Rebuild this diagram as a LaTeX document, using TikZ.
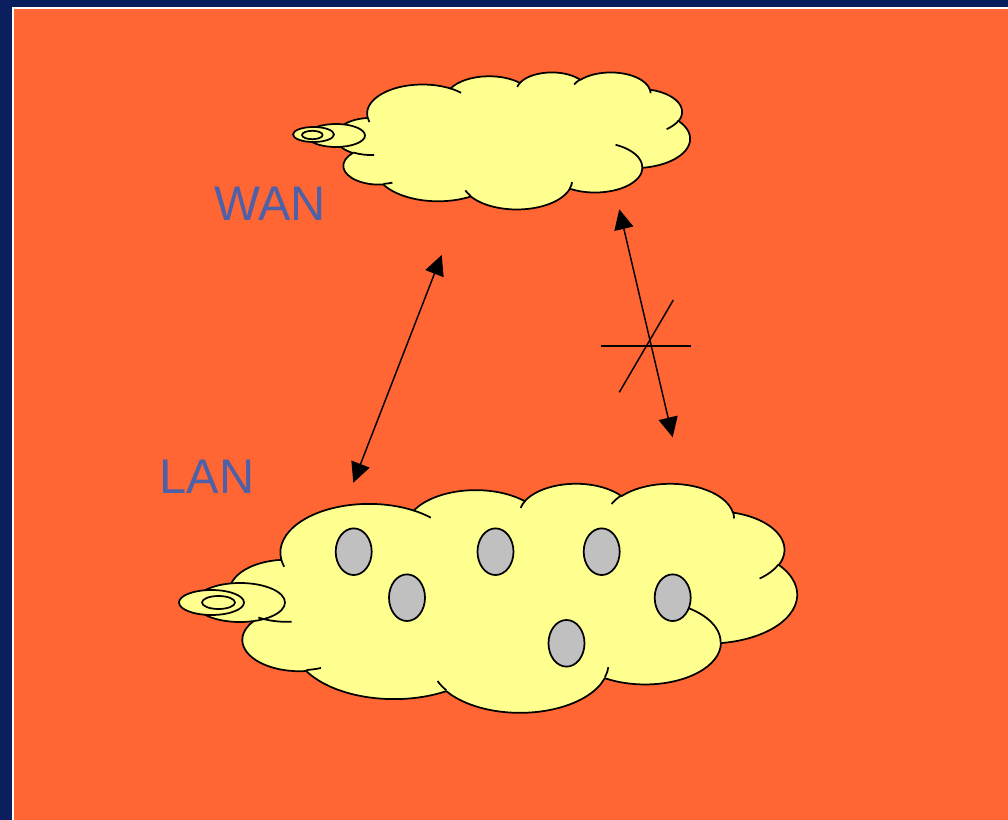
\documentclass[tikz,border=0pt]{standalone}
\usepackage{fontspec}
\setmainfont{Liberation Sans}
\usetikzlibrary{arrows.meta,shapes.geometric}

\definecolor{framenavy}{RGB}{11,31,94}
\definecolor{slideorange}{RGB}{255,102,51}
\definecolor{cloudyellow}{RGB}{255,255,143}
\definecolor{hostgrey}{RGB}{192,192,192}
\definecolor{labelblue}{RGB}{77,96,168}

% elliptical arc from the current point: radii, start angle and sweep,
% the angles being the visible ones (converted to parametric angles here)
\newcommand\vizarc[4]{%
  arc[x radius=#1, y radius=#2,
      start angle={atan2((#1)*sin(#3),(#2)*cos(#3))},
      delta angle={mod(atan2((#1)*sin(#3+#4),(#2)*cos(#3+#4))-atan2((#1)*sin(#3),(#2)*cos(#3))+720,360)}]}

% cloud outline in a 432 x 432 box
\newcommand\cloudoutline{%
  (39.00,143.70)
  \vizarc{67.53}{91.90}{-190.4875}{123.7805}
  \vizarc{53.33}{72.67}{-144.1024}{89.9452}
  \vizarc{43.65}{59.45}{-145.8079}{99.7230}
  \vizarc{48.57}{65.95}{-130.9861}{117.2417}
  \vizarc{53.33}{72.73}{-78.7089}{109.0269}
  \vizarc{67.75}{92.20}{-46.2673}{130.2690}
  \vizarc{57.85}{78.67}{0.6250}{114.0333}
  \vizarc{67.52}{92.15}{22.4516}{115.1726}
  \vizarc{77.20}{105.43}{66.2426}{75.7110}
  \vizarc{43.60}{59.18}{-274.9421}{146.7356}
  \vizarc{43.45}{59.45}{-246.8285}{152.5189}
  -- cycle}

% short inner strokes where the puffs overlap
\newcommand\cloudcreases{%
  (46.93,261.77)  \vizarc{43.45}{59.45}{86.7420}{26.4295}
  (69.28,348.99)  \vizarc{43.60}{59.18}{73.6105}{11.4475}
  (164.78,390.90) \vizarc{67.52}{92.15}{137.6242}{14.0811}
  (288.27,347.51) \vizarc{67.52}{92.15}{6.4533}{15.9984}
  (341.29,229.54) \vizarc{57.85}{78.67}{-70.2924}{70.9174}
  (417.98,153.54) \vizarc{53.33}{72.73}{30.3180}{27.7515}
  (383.24,54.26)  \vizarc{48.57}{65.95}{-13.7443}{14.8589}
  (290.78,39.52)  \vizarc{48.57}{65.95}{-149.1815}{18.1954}
  (221.41,47.20)  \vizarc{43.65}{59.45}{-163.4943}{17.6864}
  (140.00,51.92)  \vizarc{67.53}{91.90}{-66.7070}{12.3194}
  (41.27,157.89)  \vizarc{67.53}{91.90}{157.6544}{11.8582}}

\begin{document}
\begin{tikzpicture}[x=0.75pt, y=-0.75pt,
  cloudbox/.style n args={4}{shift={(#1,#2)},
    x={({#3*0.75pt/432},0pt)}, y={(0pt,{-#4*0.75pt/432})}},
  cloudline/.style={draw=black, line width=1.3pt, line join=round},
  cloudbody/.style={cloudline, fill=cloudyellow},
  host/.style={ellipse, draw=black, line width=1.3pt, fill=hostgrey,
    inner sep=0pt, minimum width=27pt, minimum height=35pt},
  link/.style={line width=1.1pt, {Triangle[length=15pt, width=14.5pt]}-{Triangle[length=15pt, width=14.5pt]}},
  strike/.style={line width=1.1pt},
  lbl/.style={text=labelblue, font=\fontsize{36.5pt}{40pt}\selectfont,
    inner sep=0pt, anchor=base west}]

\useasboundingbox (0,0) rectangle (1008,820);

% slide frame and background
\fill[framenavy] (0,0) rectangle (1008,820);
\fill[white] (12,6.7) rectangle (1008,820);
\fill[slideorange] (14,9) rectangle (1008,820);

% WAN cloud
\begin{scope}[cloudbox={335.6}{72}{354.4}{137}]
  \path[cloudbody] \cloudoutline;
\end{scope}
\draw[cloudbody] (336,135.5) ellipse [x radius=29, y radius=11.5];
\draw[cloudbody] (313.5,134.5) ellipse [x radius=20.5, y radius=7.5];
\draw[cloudbody] (312.3,135) ellipse [x radius=10.3, y radius=4.2];
\begin{scope}[cloudbox={335.6}{72}{354.4}{137}]
  \path[cloudline] \cloudcreases;
\end{scope}

% LAN cloud
\begin{scope}[cloudbox={230}{483}{567}{229}]
  \path[cloudbody] \cloudoutline;
\end{scope}
\draw[cloudbody] (240,602.5) ellipse [x radius=45, y radius=19.5];
\draw[cloudbody] (211.5,602.5) ellipse [x radius=32.5, y radius=12.5];
\draw[cloudbody] (218.5,602.5) ellipse [x radius=16.5, y radius=6.5];
\begin{scope}[cloudbox={230}{483}{567}{229}]
  \path[cloudline] \cloudcreases;
\end{scope}

% hosts on the LAN
\node[host] (h1) at (353.7,551.7) {};
\node[host] (h2) at (407,597.7) {};
\node[host] (h3) at (495.5,551.7) {};
\node[host] (h4) at (601.7,551.7) {};
\node[host] (h5) at (672.7,597.7) {};
\node[host] (h6) at (566.5,643.3) {};

% labels
\node[lbl] (wan) at (214,221) {WAN};
\node[lbl] (lan) at (159.5,493.5) {LAN};

% links between the two networks
\coordinate (wanA) at (441.7,255);
\coordinate (lanA) at (353.3,482.7);
\coordinate (wanB) at (619.3,209.3);
\coordinate (lanB) at (672.7,437.3);
\draw[link] (wanA) -- (lanA);
\draw[link] (wanB) -- (lanB);

% strike-through mark on the second link
\coordinate (sL) at (601,346);
\coordinate (sR) at (691,346);
\coordinate (dB) at (619.3,392.3);
\coordinate (dT) at (673.3,300);
\draw[strike] (sL) -- (sR);
\draw[strike] (dB) -- (dT);

\end{tikzpicture}
\end{document}
